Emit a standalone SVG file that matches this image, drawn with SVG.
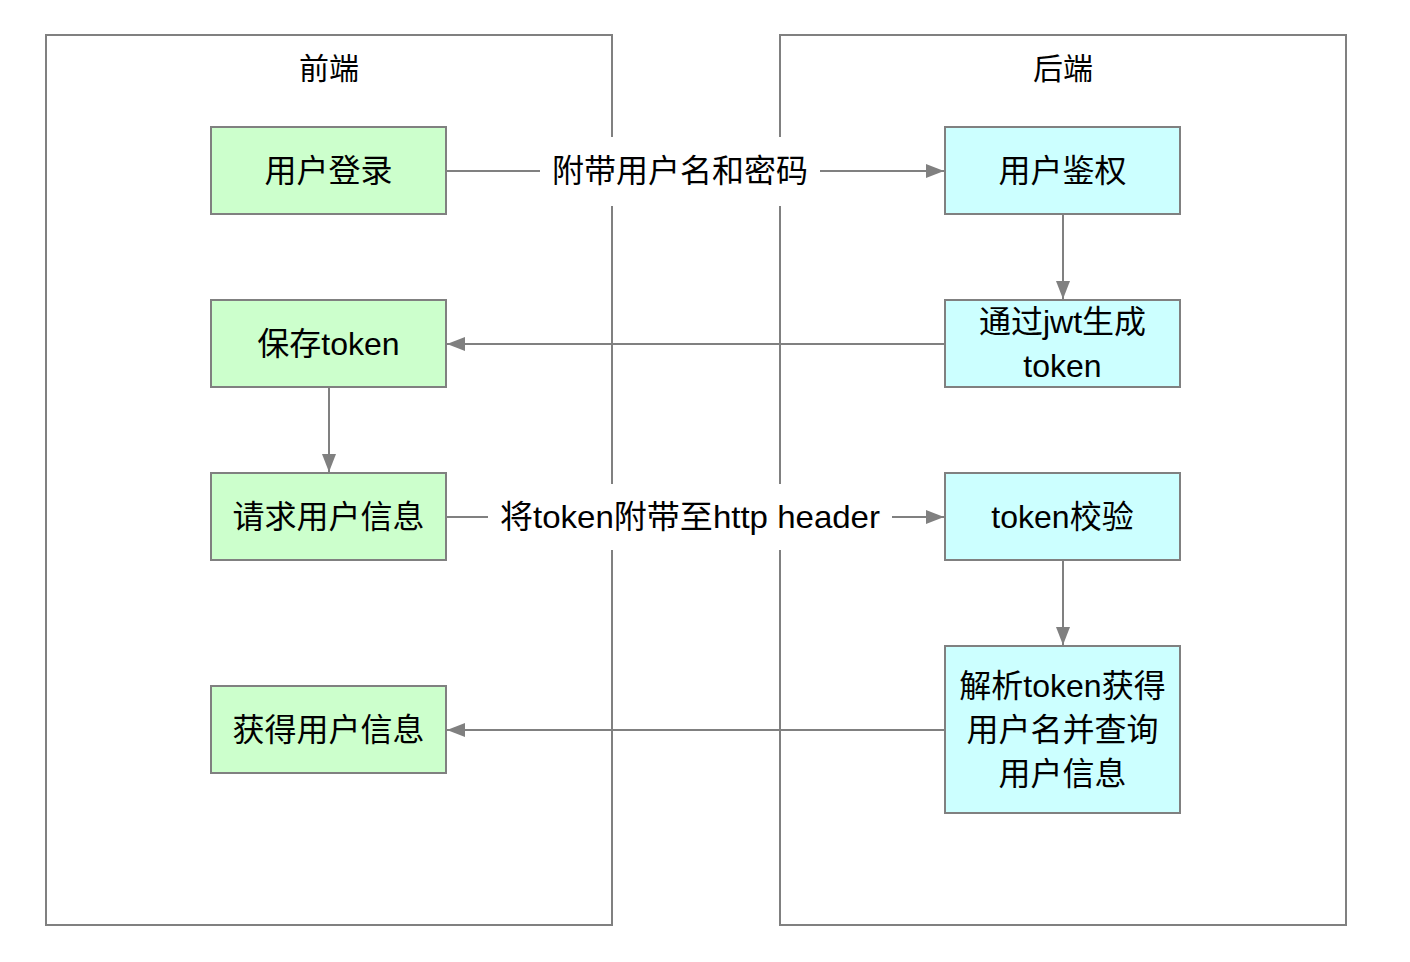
<svg xmlns="http://www.w3.org/2000/svg" width="1410" height="962" viewBox="0 0 1410 962">
  <style>
    text { font-family: "Liberation Sans", "Noto Sans CJK SC", sans-serif; fill: #000; text-anchor: middle; dominant-baseline: central; }
    .title { font-size: 30px; }
    .lbl { font-size: 32px; }
    .frame { fill: #fff; stroke: #808080; stroke-width: 2; }
    .fe { fill: #ccffcc; stroke: #808080; stroke-width: 2; }
    .be { fill: #ccffff; stroke: #808080; stroke-width: 2; }
    .edge { fill: none; stroke: #808080; stroke-width: 2; }
    .bg { fill: #fff; stroke: none; }
  </style>
  <defs>
    <marker id="arrow" viewBox="0 0 18 14" refX="18" refY="7" markerWidth="18" markerHeight="14" markerUnits="userSpaceOnUse" orient="auto">
      <path d="M0,0 L18,7 L0,14 z" fill="#808080"/>
    </marker>
  </defs>
  <rect width="1410" height="962" fill="#fff"/>

  <!-- swimlanes -->
  <g id="frontend">
    <rect class="frame" x="46" y="35" width="566" height="890"/>
    <text class="title" x="329" y="68">前端</text>
  </g>
  <g id="backend">
    <rect class="frame" x="780" y="35" width="566" height="890"/>
    <text class="title" x="1063" y="68">后端</text>
  </g>

  <!-- connectors -->
  <g id="connectors">
    <path class="edge" d="M446,171 H944" marker-end="url(#arrow)"/>
    <path class="edge" d="M1063,214 V299" marker-end="url(#arrow)"/>
    <path class="edge" d="M945,344 H447" marker-end="url(#arrow)"/>
    <path class="edge" d="M329,387 V472" marker-end="url(#arrow)"/>
    <path class="edge" d="M446,517 H944" marker-end="url(#arrow)"/>
    <path class="edge" d="M1063,560 V645" marker-end="url(#arrow)"/>
    <path class="edge" d="M945,730 H447" marker-end="url(#arrow)"/>
    <g id="edge-label-1">
      <rect class="bg" x="540" y="137" width="280" height="69"/>
      <text class="lbl" x="680" y="171">附带用户名和密码</text>
    </g>
    <g id="edge-label-2">
      <rect class="bg" x="488" y="484" width="404" height="66"/>
      <text class="lbl" x="690" y="517" textLength="380" lengthAdjust="spacingAndGlyphs">将token附带至http header</text>
    </g>
  </g>

  <!-- frontend nodes -->
  <g id="login">
    <rect class="fe" x="211" y="127" width="235" height="87"/>
    <text class="lbl" x="328.5" y="171">用户登录</text>
  </g>
  <g id="save-token">
    <rect class="fe" x="211" y="300" width="235" height="87"/>
    <text class="lbl" x="328.5" y="344">保存token</text>
  </g>
  <g id="request-info">
    <rect class="fe" x="211" y="473" width="235" height="87"/>
    <text class="lbl" x="328.5" y="517">请求用户信息</text>
  </g>
  <g id="get-info">
    <rect class="fe" x="211" y="686" width="235" height="87"/>
    <text class="lbl" x="328.5" y="730">获得用户信息</text>
  </g>

  <!-- backend nodes -->
  <g id="auth">
    <rect class="be" x="945" y="127" width="235" height="87"/>
    <text class="lbl" x="1062.5" y="171">用户鉴权</text>
  </g>
  <g id="gen-token">
    <rect class="be" x="945" y="300" width="235" height="87"/>
    <text class="lbl" x="1062.5" y="322">通过jwt生成</text>
    <text class="lbl" x="1062.5" y="366">token</text>
  </g>
  <g id="verify-token">
    <rect class="be" x="945" y="473" width="235" height="87"/>
    <text class="lbl" x="1062.5" y="517">token校验</text>
  </g>
  <g id="parse-token">
    <rect class="be" x="945" y="646" width="235" height="167"/>
    <text class="lbl" x="1062.5" y="686">解析token获得</text>
    <text class="lbl" x="1062.5" y="730">用户名并查询</text>
    <text class="lbl" x="1062.5" y="774">用户信息</text>
  </g>
</svg>
